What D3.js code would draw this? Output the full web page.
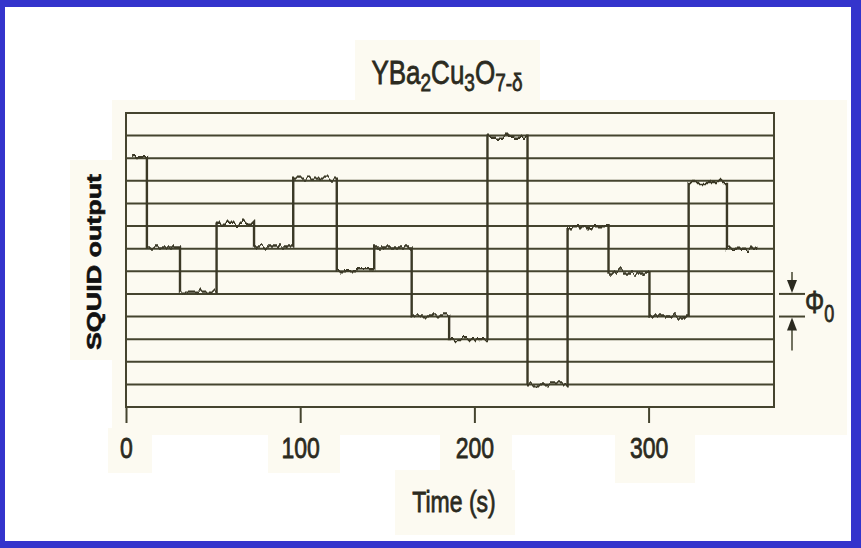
<!DOCTYPE html>
<html>
<head>
<meta charset="utf-8">
<script src="https://cdn.jsdelivr.net/npm/d3@7"></script>
<style>
  html, body { margin: 0; padding: 0; background: #ffffff; }
  svg { display: block; }
  text { font-family: "Liberation Sans", Arial, Helvetica, sans-serif; fill: #2b2a20; stroke: #2b2a20; stroke-width: 0.6px; }
</style>
</head>
<body>
<svg id="chart" width="861" height="548"></svg>
<script>
// Flux steps of the SQUID trace: start time of each plateau (s) and its level (in flux quanta)
const stepTimes  = [3.5, 12, 31, 52, 73.5, 96, 121, 142.5, 164, 185.5, 207.5, 230.5, 253.5, 277, 300.5, 323, 345];
const stepLevels = [11.05, 7.05, 5.1, 8.1, 7.1, 10.1, 6.05, 7.05, 4.05, 3.0, 11.95, 1.0, 7.95, 5.95, 4.0, 9.95, 7.0];
const traceEnd   = 362.5;

// Horizontal reference lines, one per flux quantum
const fluxLines  = [1, 2, 3, 4, 5, 6, 7, 8, 9, 10, 11, 12];
// Time axis ticks
const timeTicks  = [0, 100, 200, 300];
const timeLabels = ["0", "100", "200", "300"];
// The Φ0 bracket spans one quantum between these two levels
const phiBracket = [4, 5];

const W = 861, H = 548;
const ink = "#45442f";
const stretch = 1.28;

const svg = d3.select("#chart");

// Page: white sheet with a blue frame and creamy paper patches
svg.append("rect").attr("x", 0).attr("y", 0).attr("width", W).attr("height", H).attr("fill", "#3434cc");
svg.append("rect").attr("x", 5).attr("y", 7).attr("width", 846).attr("height", 534).attr("fill", "#ffffff");

const paper = "#fcfaf1";
[[355, 40, 185, 70], [112, 100, 735, 335], [108, 428, 44, 45], [268, 428, 72, 45],
 [440, 428, 72, 45], [615, 428, 80, 55], [395, 470, 120, 65], [70, 160, 45, 200]]
  .forEach(([x, y, w, h]) => svg.append("rect").attr("x", x).attr("y", y)
    .attr("width", w).attr("height", h).attr("fill", paper));

// Scales
const x = d3.scaleLinear().domain([0, 372]).range([126, 774]);
const y = d3.scaleLinear().domain([0, 13]).range([407, 113]);

// Slight vertical jitter on the trace, as recorded by the chart pen
const defs = svg.append("defs");
const f = defs.append("filter").attr("id", "pen").attr("x", "-5%").attr("y", "-10%")
  .attr("width", "110%").attr("height", "120%");
f.append("feTurbulence").attr("type", "fractalNoise").attr("baseFrequency", "0.22 0.02")
  .attr("numOctaves", 2).attr("seed", 7).attr("result", "noise");
f.append("feColorMatrix").attr("in", "noise").attr("type", "matrix")
  .attr("values", "0 0 0 0 0.5  0 1 0 0 0  0 0 1 0 0  0 0 0 0 1").attr("result", "ynoise");
f.append("feDisplacementMap").attr("in", "SourceGraphic").attr("in2", "ynoise")
  .attr("scale", 11).attr("xChannelSelector", "R").attr("yChannelSelector", "G");

// Flux reference lines
svg.append("g").selectAll("line").data(fluxLines).join("line")
  .attr("x1", x.range()[0]).attr("x2", x.range()[1])
  .attr("y1", d => y(d)).attr("y2", d => y(d))
  .attr("stroke", ink).attr("stroke-width", 2);

// Frame
svg.append("rect").attr("x", x.range()[0]).attr("y", y(13))
  .attr("width", x.range()[1] - x.range()[0]).attr("height", y(0) - y(13))
  .attr("fill", "none").attr("stroke", ink).attr("stroke-width", 2);

// Time axis with downward ticks
const xAxis = svg.append("g").attr("transform", `translate(0,${y(0)})`)
  .call(d3.axisBottom(x).tickValues(timeTicks).tickSize(16)
    .tickFormat((d, i) => timeLabels[i]));
xAxis.select(".domain").remove();
xAxis.selectAll(".tick line").attr("stroke", ink).attr("stroke-width", 2);
xAxis.selectAll(".tick text").attr("y", null).attr("dy", null)
  .attr("transform", `translate(0,51) scale(1,${stretch})`)
  .attr("font-size", 23).attr("fill", "#2b2a20");

// SQUID trace
const pts = stepTimes.map((t, i) => [t, stepLevels[i]]);
pts.push([traceEnd, stepLevels[stepLevels.length - 1]]);
svg.append("path").datum(pts)
  .attr("d", d3.line().x(d => x(d[0])).y(d => y(d[1])).curve(d3.curveStepAfter))
  .attr("fill", "none").attr("stroke", "#3a3926").attr("stroke-width", 2.4)
  .attr("filter", "url(#pen)");

// Title
const title = svg.append("g").attr("transform", `translate(447,84) scale(1,${stretch})`)
  .append("text").attr("text-anchor", "middle").attr("font-size", 26);
[["YBa", 0], ["2", 1], ["Cu", 0], ["3", 1], ["O", 0], ["7-δ", 1]].forEach(([s, sub]) => {
  title.append("tspan").text(s)
    .attr("font-size", sub ? 19 : 26)
    .attr("baseline-shift", sub ? "-28%" : null);
});

// Axis titles
svg.append("g").attr("transform", `translate(454,512) scale(1,${stretch})`)
  .append("text").attr("text-anchor", "middle").attr("font-size", 23).text("Time (s)");
svg.append("g").attr("transform", `translate(101,262) scale(1,${stretch}) rotate(-90)`)
  .append("text").attr("text-anchor", "middle").attr("font-size", 21)
  .attr("font-weight", "bold").style("fill", "#111").style("stroke", "#111").text("SQUID output");

// Φ0 bracket: two short lines with arrows pointing at them
const bx0 = 779, bx1 = 805, ax = 792;
phiBracket.forEach(v => svg.append("line").attr("x1", bx0).attr("x2", bx1)
  .attr("y1", y(v)).attr("y2", y(v)).attr("stroke", ink).attr("stroke-width", 2));
const yTop = y(phiBracket[1]), yBot = y(phiBracket[0]);
svg.append("line").attr("x1", ax).attr("x2", ax).attr("y1", yTop - 22).attr("y2", yTop - 8)
  .attr("stroke", ink).attr("stroke-width", 1.5);
svg.append("path").attr("d", `M${ax - 5},${yTop - 14} L${ax + 5},${yTop - 14} L${ax},${yTop - 1} Z`)
  .attr("fill", "#2b2a20");
svg.append("line").attr("x1", ax).attr("x2", ax).attr("y1", yBot + 8).attr("y2", yBot + 34)
  .attr("stroke", ink).attr("stroke-width", 1.5);
svg.append("path").attr("d", `M${ax - 5},${yBot + 14} L${ax + 5},${yBot + 14} L${ax},${yBot + 1} Z`)
  .attr("fill", "#2b2a20");
const phi = svg.append("g").attr("transform", `translate(805,${(yTop + yBot) / 2 + 8}) scale(1,${stretch})`)
  .append("text").attr("font-size", 24);
phi.append("tspan").text("Φ");
phi.append("tspan").text("0").attr("font-size", 18).attr("baseline-shift", "-40%");
</script>
</body>
</html>
